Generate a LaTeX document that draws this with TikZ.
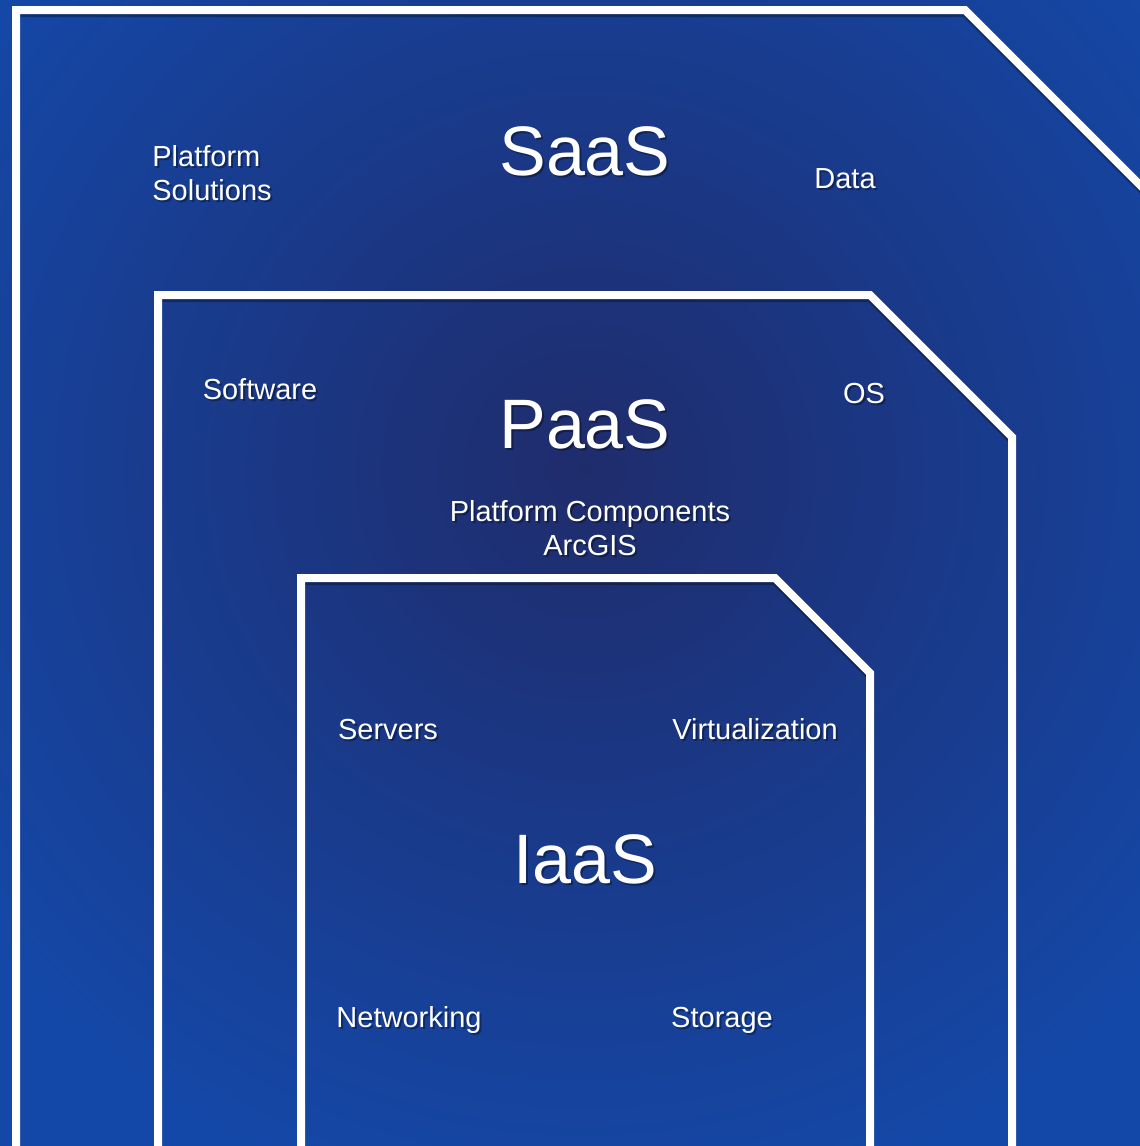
\documentclass[tikz,border=0pt]{standalone}
\usepackage{fontspec}
\setmainfont{Liberation Sans}
\definecolor{bgedge}{HTML}{1448A8}
\definecolor{bgmid}{HTML}{1F2C6C}
\newcommand\lbl[4]{%
  \node[#2,text=black,opacity=0.35,xshift=2pt,yshift=-2pt] at (#3) {#4};
  \node[#2] (#1) at (#3) {#4};}
\begin{document}
\begin{tikzpicture}[x=1pt,y=-1pt,
  frame/.style={draw=white,line width=8pt,line join=miter},
  frameshadow/.style={draw=black,opacity=0.3,line width=8pt,yshift=-3pt},
  big/.style={text=white,font=\fontsize{70}{84}\selectfont,anchor=base,inner sep=0pt},
  small/.style={text=white,font=\fontsize{29}{34}\selectfont,anchor=base,inner sep=0pt,align=center}]
\useasboundingbox (0,0) rectangle (1140,1146);
\begin{scope}
\clip (0,0) rectangle (1140,1146);
\fill[bgedge] (0,0) rectangle (1140,1146);
\shade[inner color=bgmid,outer color=bgedge] (585,470) circle (760);
% shadows
\draw[frameshadow] (16,1170) -- (16,10) -- (965,10) -- (1170,215);
\draw[frameshadow] (158,1170) -- (158,295) -- (870,295) -- (1012,437) -- (1012,1170);
\draw[frameshadow] (301,1170) -- (301,578) -- (775,578) -- (870,673) -- (870,1170);
% frames
\draw[frame] (16,1170) -- (16,10) -- (965,10) -- (1170,215);
\draw[frame] (158,1170) -- (158,295) -- (870,295) -- (1012,437) -- (1012,1170);
\draw[frame] (301,1170) -- (301,578) -- (775,578) -- (870,673) -- (870,1170);
\end{scope}
% labels
\lbl{saas}{big}{585,175}{SaaS}
\lbl{paas}{big}{585,448}{PaaS}
\lbl{iaas}{big}{585,883}{IaaS}
\lbl{plsol}{small,align=left}{212,200}{Platform\\Solutions}
\lbl{data}{small}{845,188}{Data}
\lbl{software}{small}{260,399}{Software}
\lbl{os}{small}{864,403}{OS}
\lbl{plcomp}{small}{590,555}{Platform Components\\ArcGIS}
\lbl{servers}{small}{388,739}{Servers}
\lbl{virt}{small}{755,739}{Virtualization}
\lbl{net}{small}{409,1027}{Networking}
\lbl{stor}{small}{722,1027}{Storage}
\end{tikzpicture}
\end{document}
